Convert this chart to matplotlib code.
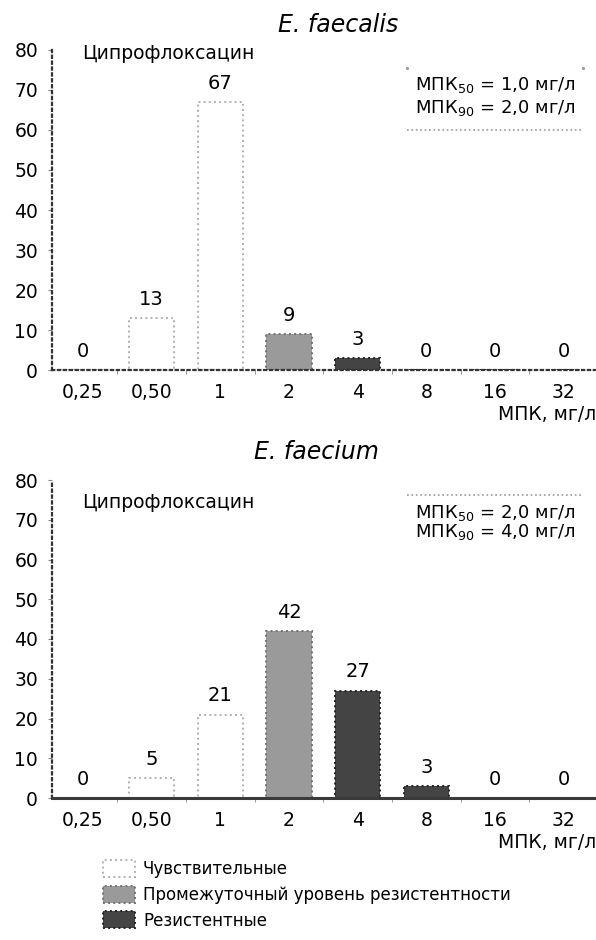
import matplotlib
matplotlib.use("Agg")
import matplotlib.pyplot as plt
from matplotlib.patches import Patch

# MIC distribution (% of isolates) for ciprofloxacin
categories = ["0,25", "0,50", "1", "2", "4", "8", "16", "32"]
faecalis_values = [0, 13, 67, 9, 3, 0, 0, 0]
faecium_values = [0, 5, 21, 42, 27, 3, 0, 0]

# susceptibility class for each MIC: 0 - S, 1 - I, 2 - R
category_class = [0, 0, 0, 1, 2, 2, 2, 2]
class_labels = [
    "Чувствительные",
    "Промежуточный уровень резистентности",
    "Резистентные",
]

drug_name = "Ципрофлоксацин"
faecalis_mic = ["МПК$_{50}$ = 1,0 мг/л", "МПК$_{90}$ = 2,0 мг/л"]
faecium_mic = ["МПК$_{50}$ = 2,0 мг/л", "МПК$_{90}$ = 4,0 мг/л"]
y_ticks = [0, 10, 20, 30, 40, 50, 60, 70, 80]

plt.rcParams["font.family"] = ["DejaVu Sans"]

face_colors = ["white", "#9a9a9a", "#444444"]
edge_colors = ["#b0b0b0", "#707070", "#222222"]

W, H = 596, 940


def draw_panel(ax, values, mic_lines, drug_y, box, solid_axis, corner_y=None):
    x = list(range(len(categories)))
    for i, v in zip(x, values):
        c = category_class[i]
        ax.bar(
            i, v,
            width=0.66,
            color=face_colors[c],
            edgecolor=edge_colors[c],
            linestyle=":",
            linewidth=1.4,
            zorder=2,
        )
        ax.annotate(
            str(v), (i, v),
            xytext=(0, 13.5),
            textcoords="offset points",
            ha="center", va="center",
            fontsize=14,
        )

    ax.set_xlim(-0.45, 7.47)
    ax.set_ylim(0, 80)
    ax.set_yticks(y_ticks)
    ax.set_xticks(x)
    ax.set_xticklabels(categories)
    ax.set_xticks([i + 0.5 for i in x[:-1]], minor=True)

    ax.tick_params(axis="x", which="major", length=0, pad=9, labelsize=13.5)
    ax.tick_params(axis="x", which="minor", length=3, color="#888888")
    ax.tick_params(axis="y", length=3, color="#888888", pad=7, labelsize=13.5)

    for side in ("top", "right"):
        ax.spines[side].set_visible(False)
    ax.spines["left"].set_linestyle(":")
    ax.spines["left"].set_linewidth(1.6)
    ax.spines["left"].set_color("#333333")
    if solid_axis:
        ax.spines["bottom"].set_linewidth(2.2)
        ax.spines["bottom"].set_color("#3a3a3a")
    else:
        ax.spines["bottom"].set_linestyle(":")
        ax.spines["bottom"].set_linewidth(1.6)
        ax.spines["bottom"].set_color("#333333")

    ax.text(0.055, drug_y, drug_name, transform=ax.transAxes,
            ha="left", va="center", fontsize=13.5)

    # МПК50 / МПК90 note with dotted rules
    x0, x1, line_y, t1, t2 = box
    ax.plot([x0, x1], [line_y, line_y], transform=ax.transAxes,
            linestyle=":", color="#999999", linewidth=1.2, clip_on=False)
    if corner_y is not None:
        ax.plot([x0, x1], [corner_y, corner_y], transform=ax.transAxes,
                linestyle="none", marker=".", markersize=2.5,
                color="#999999", clip_on=False)
    ax.text(0.667, t1, mic_lines[0], transform=ax.transAxes,
            ha="left", va="center", fontsize=13)
    ax.text(0.667, t2, mic_lines[1], transform=ax.transAxes,
            ha="left", va="center", fontsize=13)

    ax.text(1.0, -0.14, "МПК, мг/л", transform=ax.transAxes,
            ha="right", va="center", fontsize=13.5)


fig = plt.figure(figsize=(W / 100, H / 100), dpi=100)

ax_top = fig.add_axes([52 / W, 570 / H, 544 / W, 320 / H])
ax_bot = fig.add_axes([52 / W, 142 / H, 544 / W, 318 / H])

draw_panel(ax_top, faecalis_values, faecalis_mic, 0.99,
           (0.653, 0.976, 0.75, 0.89, 0.819), solid_axis=False,
           corner_y=0.944)
draw_panel(ax_bot, faecium_values, faecium_mic, 0.93,
           (0.653, 0.976, 0.953, 0.896, 0.836), solid_axis=True)

fig.text(338 / W, 1 - 25 / H, "E. faecalis", style="italic",
         ha="center", va="center", fontsize=17)
fig.text(316 / W, 1 - 452 / H, "E. faecium", style="italic",
         ha="center", va="center", fontsize=17)

handles = [
    Patch(facecolor=face_colors[k], edgecolor=edge_colors[k],
          linestyle=":", linewidth=1.4, label=class_labels[k])
    for k in range(3)
]
fig.legend(
    handles=handles,
    loc="upper left",
    bbox_to_anchor=(103 / W, 1 - 860 / H),
    frameon=False,
    fontsize=12,
    handlelength=1.9,
    handleheight=1.2,
    labelspacing=0.45,
    handletextpad=0.5,
    borderpad=0,
    borderaxespad=0,
)

fig.savefig("out.png", dpi=100)
